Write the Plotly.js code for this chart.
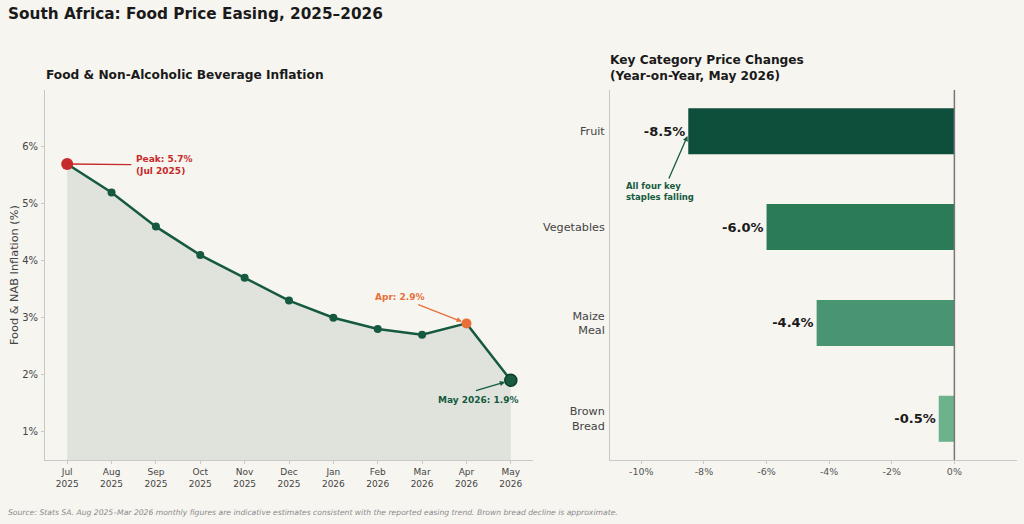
<!DOCTYPE html>
<html><head><meta charset="utf-8">
<script src="https://cdn.plot.ly/plotly-3.0.1.min.js"></script>
<style>html,body{margin:0;padding:0;background:#f7f5f0;}#chart{width:1024px;height:524px;}</style>
</head><body><div id="chart"></div>
<script>
const months = ["Jul<br>2025","Aug<br>2025","Sep<br>2025","Oct<br>2025","Nov<br>2025","Dec<br>2025","Jan<br>2026","Feb<br>2026","Mar<br>2026","Apr<br>2026","May<br>2026"];
const inflation = [5.7,5.2,4.6,4.1,3.7,3.3,3.0,2.8,2.7,2.9,1.9];
const categories = ["Fruit","Vegetables","Maize<br>Meal","Brown<br>Bread"];
const changes = [-8.5,-6.0,-4.4,-0.5];
const barColors = ["#0e4f3b","#2a7b56","#4a9571","#6cb28d"];
const yTickVals = [1,2,3,4,5,6];
const xTickVals2 = [-10,-8,-6,-4,-2,0];

const F = "DejaVu Sans, sans-serif";
const dark = "#155a40";
const idx = months.map((m,i)=>i);

const traces = [
  {x: idx, y: inflation, type:'scatter', mode:'lines', fill:'tozeroy', fillcolor:'rgba(40,80,60,0.11)', line:{color:'rgba(0,0,0,0)',width:0}, hoverinfo:'skip', xaxis:'x', yaxis:'y'},
  {x: idx, y: inflation, type:'scatter', mode:'lines+markers', line:{color:dark,width:2.5}, marker:{color:dark,size:8}, xaxis:'x', yaxis:'y'},
  {x: [idx[0]], y: [inflation[0]], type:'scatter', mode:'markers', marker:{color:'#c62a2a',size:12}, xaxis:'x', yaxis:'y'},
  {x: [idx[9]], y: [inflation[9]], type:'scatter', mode:'markers', marker:{color:'#e8703a',size:10}, xaxis:'x', yaxis:'y'},
  {x: [idx[10]], y: [inflation[10]], type:'scatter', mode:'markers', marker:{color:'#1a5c42',size:12,line:{color:'#0c3d2b',width:1.5}}, xaxis:'x', yaxis:'y'},
  {y: categories, x: changes, type:'bar', orientation:'h', width:0.48, marker:{color:barColors},
   texttemplate:'%{x:.1f}%', textposition:'outside', cliponaxis:false,
   textfont:{family:F,size:13,color:'#1a1a1a',weight:'bold'}, xaxis:'x2', yaxis:'y2'}
];

const layout = {
  width:1024, height:524, showlegend:false,
  paper_bgcolor:'#f7f5f0', plot_bgcolor:'#f7f5f0',
  margin:{l:0,r:0,t:0,b:0},
  font:{family:F,color:'#444'},
  xaxis:{domain:[45/1024,533/1024], range:[-0.5,10.5], tickvals:idx, ticktext:months,
    showgrid:false, zeroline:false, showline:true, linecolor:'#c8c8c8', linewidth:1,
    ticks:'outside', ticklen:3, tickcolor:'#c8c8c8', tickfont:{size:9,color:'#444'}, anchor:'y'},
  yaxis:{domain:[1-460/524,1-90/524], range:[0.5,7.0], tickvals:yTickVals, ticktext:yTickVals.map(v=>v+'%'),
    showgrid:false, zeroline:false, showline:true, linecolor:'#c8c8c8', linewidth:1,
    ticks:'outside', ticklen:3, tickcolor:'#c8c8c8', tickfont:{size:10,color:'#444'}, anchor:'x', ticklabelstandoff:1},
  xaxis2:{domain:[610/1024,1017/1024], range:[-11,2], tickvals:xTickVals2, ticktext:xTickVals2.map(v=>v+'%'),
    showgrid:false, zeroline:false, showline:true, linecolor:'#c8c8c8', linewidth:1,
    ticks:'outside', ticklen:3, tickcolor:'#c8c8c8', tickfont:{size:9.5,color:'#555'}, anchor:'y2'},
  yaxis2:{domain:[1-460/524,1-90/524], range:[3.43,-0.43], type:'category', categoryorder:'array', categoryarray:categories,
    showgrid:false, zeroline:false, showline:true, linecolor:'#c8c8c8', linewidth:1,
    ticks:'', tickfont:{size:11.2,color:'#444'}, anchor:'x2', ticklabelstandoff:2},
  shapes:[
    {type:'line', xref:'x2', yref:'y2 domain', x0:0, x1:0, y0:0, y1:1, line:{color:'#777',width:1.5}}
  ],
  annotations:[
    {xref:'paper', yref:'paper', x:6/1024, y:1-14/524, xanchor:'left', yanchor:'middle', showarrow:false,
     text:'<b>South Africa: Food Price Easing, 2025–2026</b>', font:{size:15.3,color:'#1a1a1a'}},
    {xref:'paper', yref:'paper', x:44/1024, y:1-75/524, xanchor:'left', yanchor:'middle', showarrow:false,
     text:'<b>Food & Non-Alcoholic Beverage Inflation</b>', font:{size:12.2,color:'#1a1a1a'}},
    {xref:'paper', yref:'paper', x:608/1024, y:1-68/524, xanchor:'left', yanchor:'middle', showarrow:false, align:'left',
     text:'<b>Key Category Price Changes<br>(Year-on-Year, May 2026)</b>', font:{size:12.2,color:'#1a1a1a'}},
    {xref:'paper', yref:'paper', x:14/1024, y:1-275/524, xanchor:'center', yanchor:'middle', showarrow:false, textangle:-90,
     text:'Food & NAB Inflation (%)', font:{size:11.3,color:'#444'}},
    {xref:'paper', yref:'paper', x:6/1024, y:1-512/524, xanchor:'left', yanchor:'middle', showarrow:false,
     text:'<i>Source: Stats SA. Aug 2025–Mar 2026 monthly figures are indicative estimates consistent with the reported easing trend. Brown bread decline is approximate.</i>', font:{size:7.65,color:'#8a8a8a'}},
    // Peak
    {xref:'x', yref:'y', x:0, y:5.7, axref:'x', ayref:'y', ax:1.48, ay:5.69, showarrow:true, arrowhead:0, arrowwidth:1.3, arrowcolor:'#c62a2a', standoff:0, text:''},
    {xref:'x', yref:'y', x:1.5, y:5.69, xanchor:'left', yanchor:'middle', showarrow:false, align:'left',
     text:'<b>Peak: 5.7%<br>(Jul 2025)</b>', font:{size:9,color:'#c62a2a'}},
    // Apr
    {xref:'x', yref:'y', x:9, y:2.9, axref:'x', ayref:'y', ax:7.88, ay:3.24, showarrow:true, arrowhead:2, arrowsize:0.8, arrowwidth:1.3, arrowcolor:'#e8703a', standoff:5, text:''},
    {xref:'x', yref:'y', x:8.1, y:3.37, xanchor:'right', yanchor:'middle', showarrow:false,
     text:'<b>Apr: 2.9%</b>', font:{size:9,color:'#e8703a'}},
    // May
    {xref:'x', yref:'y', x:10, y:1.9, axref:'x', ayref:'y', ax:9.18, ay:1.71, showarrow:true, arrowhead:2, arrowsize:0.8, arrowwidth:1.3, arrowcolor:'#155a40', standoff:6, text:''},
    {xref:'x', yref:'y', x:9.27, y:1.56, xanchor:'center', yanchor:'middle', showarrow:false,
     text:'<b>May 2026: 1.9%</b>', font:{size:9,color:'#155a40'}},
    // right annotation
    {xref:'x2', yref:'y2', x:-8.5, y:0.03, axref:'x2', ayref:'y2', ax:-9.14, ay:0.51, showarrow:true, arrowhead:2, arrowsize:0.8, arrowwidth:1.3, arrowcolor:'#155a40', standoff:2, text:''},
    {xref:'paper', yref:'paper', x:624/1024, y:1-191/524, xanchor:'left', yanchor:'middle', showarrow:false, align:'left',
     text:'<b>All four key<br>staples falling</b>', font:{size:8.5,color:'#155a40'}}
  ]
};
Plotly.newPlot('chart', traces, layout, {displayModeBar:false, staticPlot:true});
</script></body></html>
